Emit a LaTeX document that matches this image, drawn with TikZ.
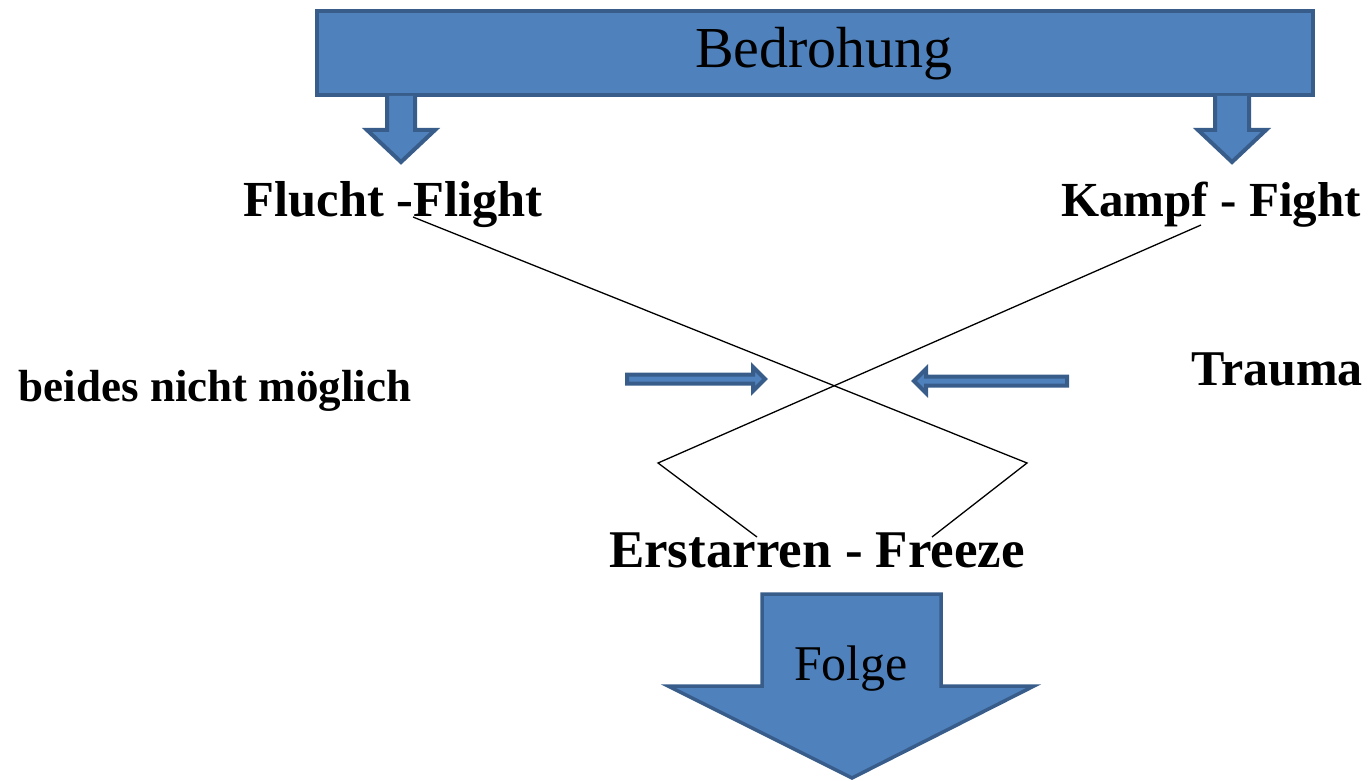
\documentclass[tikz,border=0pt]{standalone}
\usepackage{fontspec}
\setmainfont{Liberation Serif}
\definecolor{boxfill}{HTML}{4F81BD}
\definecolor{boxline}{HTML}{385D8A}
\begin{document}
\begin{tikzpicture}[x=1pt,y=-1pt,
  blueshape/.style={fill=boxfill,draw=boxline,line width=4pt,line join=miter},
  label/.style={inner sep=0pt,anchor=base,font=\fontsize{49}{55}\selectfont\bfseries},
  link/.style={line width=1.3pt,black}]
\useasboundingbox (0,0) rectangle (1370,781);

% threat banner
\node[blueshape,minimum width=996pt,minimum height=84pt,inner sep=0pt] (threat) at (815,53) {};
\node[inner sep=0pt,anchor=base,font=\fontsize{58}{64}\selectfont] (threattxt) at (824,68) {Bedrohung};

% small down arrows below the banner
\draw[blueshape] (387,96) -- (387,130) -- (367,130) -- (401,162) -- (435,130) -- (415,130) -- (415,96);
\draw[blueshape] (1215,96) -- (1215,130) -- (1198,130) -- (1232,162) -- (1266,130) -- (1249,130) -- (1249,96);

% responses
\node[label,font=\fontsize{50.5}{56}\selectfont\bfseries] (flight) at (393,216) {Flucht -Flight};
\node[label] (fight) at (1211,216) {Kampf - Fight};
\node[label,font=\fontsize{45}{50}\selectfont\bfseries] (none) at (215,401) {beides nicht möglich};
\node[label,font=\fontsize{50}{56}\selectfont\bfseries] (trauma) at (1277,385) {Trauma};
\node[label,font=\fontsize{53}{59}\selectfont\bfseries] (freeze) at (817,567) {Erstarren - Freeze};

% crossing connectors
\coordinate (fa) at (413,217);
\coordinate (fb) at (1027,463);
\coordinate (fc) at (932,537);
\coordinate (ka) at (1201,225);
\coordinate (kb) at (658,463);
\coordinate (kc) at (757,537);
\draw[link] (fa) -- (fb) -- (fc);
\draw[link] (ka) -- (kb) -- (kc);

% horizontal pointers towards the crossing
\draw[blueshape] (627,374.5) -- (753,374.5) -- (753,367) -- (765,379) -- (753,391) -- (753,383.5) -- (627,383.5) -- cycle;
\draw[blueshape] (1067,376.5) -- (926,376.5) -- (926,369) -- (914,381) -- (926,393) -- (926,385.5) -- (1067,385.5) -- cycle;

% consequence arrow
\draw[blueshape,line width=3.5pt] (762,594) -- (941,594) -- (941,686) -- (1034,686) -- (852,778) -- (668,686) -- (762,686) -- cycle;
\node[inner sep=0pt,anchor=base,font=\fontsize{50}{56}\selectfont] (result) at (851,680) {Folge};
\end{tikzpicture}
\end{document}
